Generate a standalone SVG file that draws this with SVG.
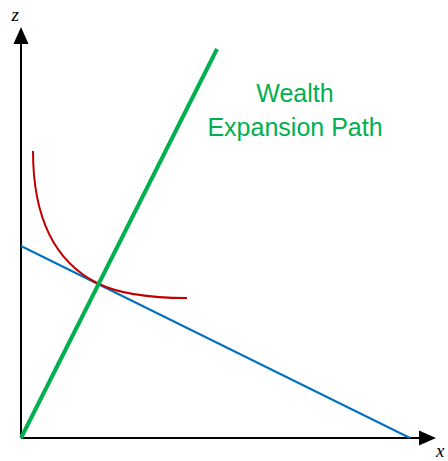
<svg xmlns="http://www.w3.org/2000/svg" width="448" height="461" viewBox="0 0 448 461">
<style>
.axis{stroke:#000;stroke-width:2;fill:none}
.lbl{font-family:"Liberation Serif","DejaVu Serif",serif;font-style:italic;font-size:19px;fill:#000}
.txt{font-family:"Liberation Sans","Open Sans",sans-serif;font-size:25px;fill:#00B050;text-anchor:middle}
</style>
<g id="connectors">
<path id="y-axis" class="axis" d="M21,438V44"/>
<path id="x-axis" class="axis" d="M21,438H420"/>
<path d="M21,27L28.5,44H13.5z" fill="#000"/>
<path d="M436,438L419,430.5V445.5z" fill="#000"/>
<path id="budget" d="M21,246L410,438" stroke="#0070C0" stroke-width="2" fill="none"/>
<path id="indiff" d="M33,151C33,206 48,258.8 98,283.5C123,295.8 157,298 187,298" stroke="#C00000" stroke-width="2" fill="none"/>
<path id="wep" d="M21,438L217,49" stroke="#00B050" stroke-width="4" fill="none"/>
</g>
<g id="labels">
<text class="lbl" x="11.5" y="20.5">z</text>
<text class="lbl" x="436" y="457">x</text>
<g id="wealth-label">
<text class="txt" x="295" y="102">Wealth</text>
<text class="txt" x="295" y="136">Expansion Path</text>
</g>
</g>
</svg>
